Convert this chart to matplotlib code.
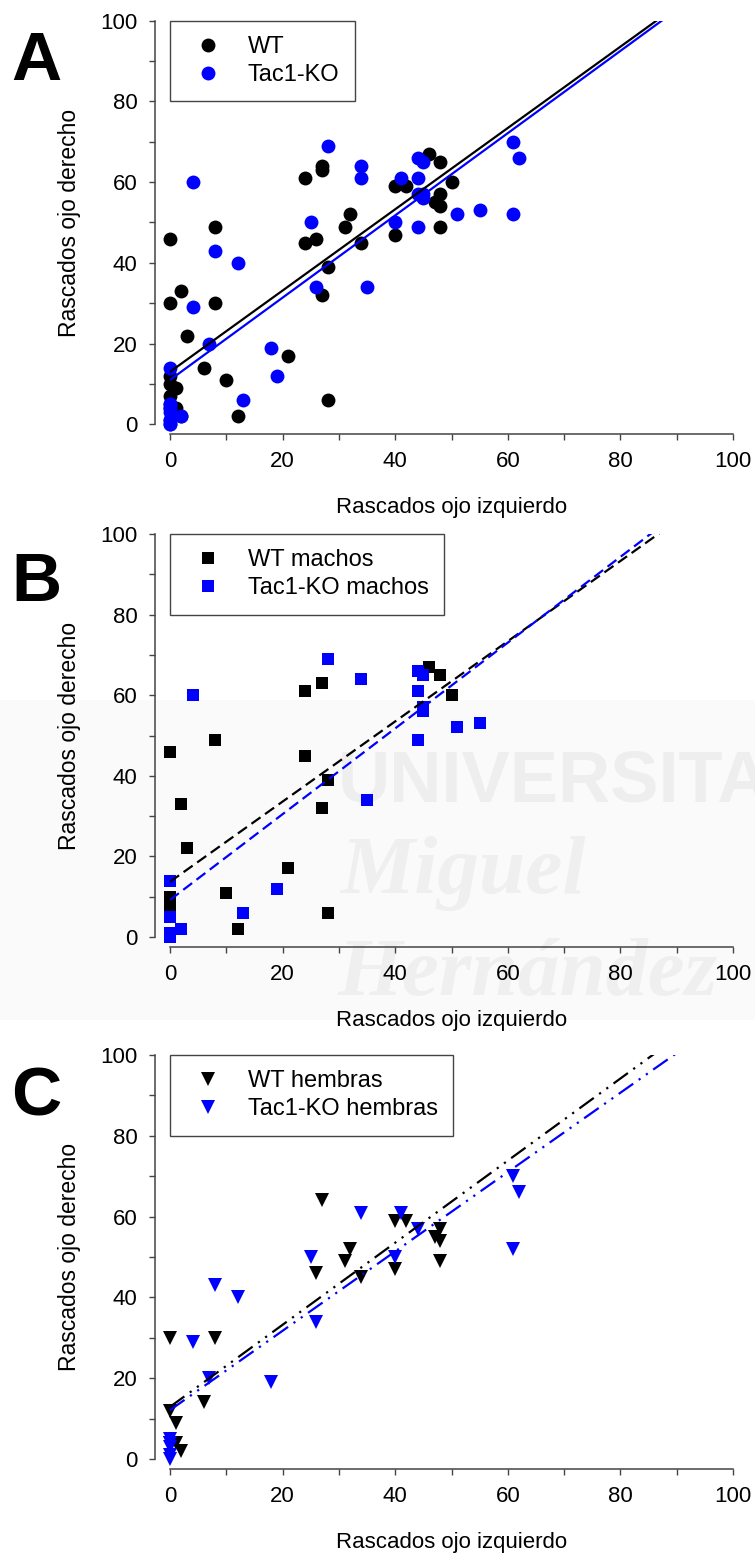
import numpy as np
import matplotlib
matplotlib.use("Agg")
import matplotlib.pyplot as plt
from matplotlib.ticker import MultipleLocator
from matplotlib.patches import Rectangle

plt.rcParams['font.family'] = ['Liberation Sans', 'DejaVu Sans']

# machos (panel B)
wt_m_x = [0, 8, 2, 3, 0, 0, 10, 12, 21, 24, 27, 24, 28, 27, 28, 46, 48, 50]
wt_m_y = [46, 49, 33, 22, 10, 7, 11, 2, 17, 61, 63, 45, 39, 32, 6, 67, 65, 60]
ko_m_x = [4, 28, 34, 35, 19, 13, 0, 0, 2, 0, 0, 44, 45, 44, 45, 45, 44, 51, 55]
ko_m_y = [60, 69, 64, 34, 12, 6, 14, 5, 2, 1, 0, 66, 65, 61, 56, 57, 49, 52, 53]

# hembras (panel C)
wt_h_x = [0, 8, 6, 0, 1, 0, 1, 2, 27, 26, 32, 31, 34, 40, 42, 40, 48, 47, 48, 48]
wt_h_y = [30, 30, 14, 12, 9, 4, 4, 2, 64, 46, 52, 49, 45, 59, 59, 47, 57, 55, 54, 49]
ko_h_x = [8, 12, 4, 7, 18, 25, 26, 34, 41, 40, 44, 61, 62, 61, 0, 0, 0, 0, 0]
ko_h_y = [43, 40, 29, 20, 19, 50, 34, 61, 61, 50, 57, 70, 66, 52, 5, 4, 3, 1, 0]

# panel A = all animals
wt_x = wt_m_x + wt_h_x
wt_y = wt_m_y + wt_h_y
ko_x = ko_m_x + ko_h_x
ko_y = ko_m_y + ko_h_y

# regression lines as drawn in the figure: [intercept, slope]
fit_a_wt = [13.0, 1.007]
fit_a_ko = [11.0, 1.019]
fit_b_wt = [13.7, 0.995]
fit_b_ko = [9.2, 1.064]
fit_c_wt = [12.9, 1.016]
fit_c_ko = [12.1, 0.982]

BLUE = '#0000ff'
AXC = '#444444'

W, H = 755, 1555
fig = plt.figure(figsize=(W / 100, H / 100), dpi=100)

# faint watermark behind panel B
fig.patches.append(Rectangle((0, 1 - 1020 / H), 1, 320 / H, transform=fig.transFigure,
                             facecolor='#fafafa', edgecolor='none', zorder=-3))
fig.text(338 / W, 1 - 802 / H, 'UNIVERSITAS', fontsize=52, fontweight='bold',
         color='#eeeeee', zorder=-2, va='baseline')
fig.text(340 / W, 1 - 893 / H, 'Miguel', fontsize=60, style='italic', fontweight='bold',
         family='Liberation Serif', color='#efefef', zorder=-2, va='baseline')
fig.text(338 / W, 1 - 995 / H, 'Hernández', fontsize=60, style='italic', fontweight='bold',
         family='Liberation Serif', color='#efefef', zorder=-2, va='baseline')


def make_axes(top_px, bottom_px):
    ax = fig.add_axes([170 / W, 1 - bottom_px / H, 563 / W, (bottom_px - top_px) / H])
    ax.patch.set_alpha(0)
    ax.set_xlim(0, 100)
    ax.set_ylim(0, 100)
    for s in ['top', 'right']:
        ax.spines[s].set_visible(False)
    ax.spines['left'].set_position(('outward', 10.8))
    ax.spines['bottom'].set_position(('outward', 7))
    for s in ['left', 'bottom']:
        ax.spines[s].set_color(AXC)
        ax.spines[s].set_linewidth(1.1)
    ax.set_xticks(range(0, 101, 20))
    ax.set_yticks(range(0, 101, 20))
    ax.xaxis.set_minor_locator(MultipleLocator(10))
    ax.yaxis.set_minor_locator(MultipleLocator(10))
    ax.tick_params(which='both', direction='out', length=4.5, width=1, color=AXC,
                   labelsize=16, pad=8)
    ax.set_xlabel('Rascados ojo izquierdo', fontsize=16, labelpad=18)
    ax.set_ylabel('Rascados ojo derecho', fontsize=16.5, labelpad=14)
    return ax


def fit_line(ax, fit, color, ls):
    xs = np.array([0.0, 100.0])
    ax.plot(xs, fit[0] + fit[1] * xs, color=color, lw=1.6, ls=ls, zorder=4)


def panel(top_px, bottom_px, x1, y1, x2, y2, f1, f2, marker, ms, lab1, lab2, ls,
          letter, letter_y):
    ax = make_axes(top_px, bottom_px)
    ax.plot(x1, y1, ls='none', marker=marker, ms=ms, color='black', mew=0,
            label=lab1, clip_on=False, zorder=3)
    ax.plot(x2, y2, ls='none', marker=marker, ms=ms, color=BLUE, mew=0,
            label=lab2, clip_on=False, zorder=3)
    fit_line(ax, f1, 'black', ls)
    fit_line(ax, f2, BLUE, ls)
    leg = ax.legend(loc='upper left', bbox_to_anchor=(0, 1), borderaxespad=0,
                    fontsize=17, frameon=True, fancybox=False, framealpha=1,
                    edgecolor=AXC, handlelength=1.9, handletextpad=0.75,
                    borderpad=0.65, labelspacing=0.25)
    leg.get_frame().set_linewidth(1.0)
    fig.text(36 / W, 1 - letter_y / H, letter, fontsize=50, fontweight='bold',
             ha='center', va='center')
    return ax


panel(20.7, 424.3, wt_x, wt_y, ko_x, ko_y, fit_a_wt, fit_a_ko, 'o', 10,
      'WT', 'Tac1-KO', '-', 'A', 62)
panel(534, 937, wt_m_x, wt_m_y, ko_m_x, ko_m_y, fit_b_wt, fit_b_ko, 's', 9,
      'WT machos', 'Tac1-KO machos', (0, (5, 2.5)), 'B', 583)
panel(1055, 1459, wt_h_x, wt_h_y, ko_h_x, ko_h_y, fit_c_wt, fit_c_ko, 'v', 9.5,
      'WT hembras', 'Tac1-KO hembras', (0, (8, 3, 1, 3, 1, 3)), 'C', 1097)

fig.savefig('out.png', dpi=100)
